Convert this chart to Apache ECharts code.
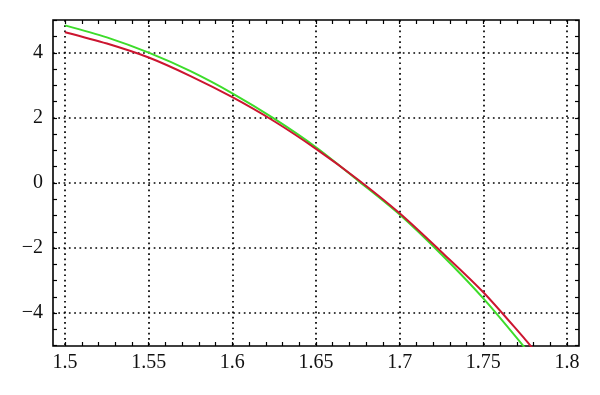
<!DOCTYPE html>
<html>
<head>
<meta charset="utf-8">
<script src="https://cdn.jsdelivr.net/npm/echarts@6/dist/echarts.min.js"></script>
<style>
  html, body { margin: 0; padding: 0; background: #fff; }
  #chart { width: 600px; height: 395px; }
</style>
</head>
<body>
<div id="chart"></div>
<script>
// data
var greenX = [1.5, 1.525, 1.55, 1.575, 1.6, 1.625, 1.65, 1.675, 1.7, 1.725, 1.75, 1.775];
var greenY = [4.85, 4.48, 4.01, 3.44, 2.76, 1.98, 1.10, 0.08, -0.97, -2.2, -3.55, -5.08];
var redX = [1.5, 1.525, 1.55, 1.575, 1.6, 1.625, 1.65, 1.675, 1.7, 1.725, 1.75, 1.775, 1.78];
var redY = [4.64, 4.29, 3.86, 3.29, 2.64, 1.90, 1.05, 0.11, -0.93, -2.12, -3.36, -4.81, -5.12];

var xTicks = [1.5, 1.55, 1.6, 1.65, 1.7, 1.75, 1.8];
var yTicks = [-4, -2, 0, 2, 4];

var xMin = 1.4928, xMax = 1.8072;
var yMin = -5.015, yMax = 5.015;

function pairs(xs, ys) {
    var out = [];
    for (var i = 0; i < xs.length; i++) out.push([xs[i], ys[i]]);
    return out;
}

// minor ticks: split each major step
function minors(ticks, n, lo, hi) {
    var out = [];
    var step = ticks[1] - ticks[0];
    for (var k = -1; k < ticks.length; k++) {
        var base = k < 0 ? ticks[0] - step : ticks[k];
        for (var j = 0; j < n; j++) {
            var v = +(base + j * step / n).toFixed(6);
            if (v > lo && v < hi) out.push(v);
        }
    }
    return out;
}
var xMinor = minors(xTicks, 5, xMin, xMax);
var yMinor = minors(yTicks, 4, yMin, yMax);

var labelFont = {
    color: '#111',
    fontFamily: 'Liberation Serif',
    fontSize: 20
};
var dotted = {
    show: true,
    lineStyle: { color: '#000', width: 1.7, type: [1.7, 3.6] }
};

function tickAxis(grid, pos, lo, hi, vals) {
    return {
        type: 'value', gridIndex: grid, position: pos, min: lo, max: hi,
        axisLine: { show: false, onZero: false },
        axisLabel: { show: false },
        splitLine: { show: false },
        axisTick: { show: true, inside: true, length: 4, customValues: vals,
            lineStyle: { color: '#000', width: 1.2 } }
    };
}

var myChart = echarts.init(document.getElementById('chart'));
var option = {
    animation: false,
    grid: [
        { left: 53, right: 21, top: 20, bottom: 49, show: true,
          borderColor: '#000', borderWidth: 1.6, backgroundColor: 'transparent' },
        { left: 53, right: 21, top: 20, bottom: 49 }
    ],
    xAxis: [
        {
            type: 'value', gridIndex: 0, position: 'bottom', min: xMin, max: xMax,
            axisLine: { show: false, onZero: false },
            axisTick: { show: false, customValues: xTicks },
            axisLabel: Object.assign({ customValues: xTicks, margin: 7,
                formatter: function(v) { return String(+v.toFixed(2)); } }, labelFont),
            splitLine: dotted
        },
        tickAxis(1, 'bottom', xMin, xMax, xMinor),
        tickAxis(1, 'top', xMin, xMax, xMinor)
    ],
    yAxis: [
        {
            type: 'value', gridIndex: 0, position: 'left', min: yMin, max: yMax,
            axisLine: { show: false, onZero: false },
            axisTick: { show: false, customValues: yTicks },
            axisLabel: Object.assign({ customValues: yTicks, margin: 10,
                formatter: function(v) { return String(v).replace('-', '\u2212'); } }, labelFont),
            splitLine: dotted
        },
        tickAxis(1, 'left', yMin, yMax, yMinor),
        tickAxis(1, 'right', yMin, yMax, yMinor)
    ],
    series: [
        {
            type: 'line', xAxisIndex: 0, yAxisIndex: 0,
            data: pairs(greenX, greenY),
            smooth: 0.3, showSymbol: false, clip: true,
            lineStyle: { color: '#3ddc2a', width: 2 }
        },
        {
            type: 'line', xAxisIndex: 0, yAxisIndex: 0,
            data: pairs(redX, redY),
            smooth: 0.3, showSymbol: false, clip: true,
            lineStyle: { color: '#cc1530', width: 2 }
        }
    ]
};
myChart.setOption(option);
</script>
</body>
</html>
